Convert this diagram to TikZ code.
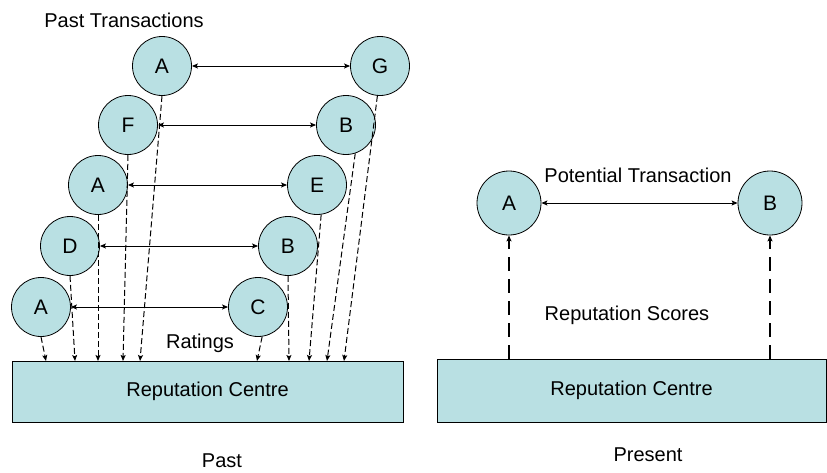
\documentclass[tikz,border=0pt]{standalone}
\usepackage{fontspec}
\setmainfont{Liberation Sans}
\usetikzlibrary{arrows.meta}
\definecolor{agentfill}{RGB}{185,224,227}
\tikzset{
  agent/.style={circle, draw=black, fill=agentfill, line width=0.8pt, minimum size=59pt, inner sep=0pt, font=\fontsize{21}{24}\selectfont},
  bigagent/.style={agent, minimum size=64pt},
  centre/.style={draw=black, fill=agentfill, line width=0.9pt, inner sep=0pt, font=\fontsize{20}{24}\selectfont},
  label/.style={font=\fontsize{20}{24}\selectfont, inner sep=0pt},
  tip/.tip={Stealth[length=6pt, width=5pt, inset=1.2pt]},
  deal/.style={tip-tip, line width=1pt},
  rating/.style={-tip, line width=1pt, dash pattern=on 6pt off 3pt},
  score/.style={-tip, line width=1.1pt, dash pattern=on 14pt off 8pt},
}
\begin{document}
\begin{tikzpicture}[x=1pt, y=-1pt]
\useasboundingbox (0,0) rectangle (827,472);

% ---- Past ----
\node[label] (pt) at (124,20) {Past Transactions};

\node[agent] (a1) at (162,66)  {A};
\node[agent] (g1) at (380,66)  {G};
\node[agent] (f2) at (128,125) {F};
\node[agent] (b2) at (346,125) {B};
\node[agent] (a3) at (98,185)  {A};
\node[agent] (e3) at (317,185) {E};
\node[agent] (d4) at (70,246)  {D};
\node[agent] (b4) at (288,246) {B};
\node[agent] (a5) at (41,307)  {A};
\node[agent] (c5) at (258,307) {C};

\node[centre, minimum width=391pt, minimum height=61pt] (rc1) at (207.5,391.5) {Reputation Centre};
\node[label] (rat) at (200,343) {Ratings};
\node[label] (past) at (222,461) {Past};

\draw[deal] (a1) -- (g1);
\draw[deal] (f2) -- (b2);
\draw[deal] (a3) -- (e3);
\draw[deal] (d4) -- (b4);
\draw[deal] (a5) -- (c5);

% rating arrows down to the centre
\coordinate (r1) at (46,361);
\coordinate (r2) at (75,361);
\coordinate (r3) at (98,361);
\coordinate (r4) at (123,361);
\coordinate (r5) at (140,361);
\coordinate (r6) at (257,361);
\coordinate (r7) at (289,361);
\coordinate (r8) at (309,361);
\coordinate (r9) at (327,361);
\coordinate (r10) at (344,361);
\draw[rating] (a5.south) -- (r1);
\draw[rating] (d4.south) -- (r2);
\draw[rating] (a3.south) -- (r3);
\draw[rating] (f2.south) -- (r4);
\draw[rating] (a1.south) -- (r5);
\draw[rating] (c5.-82) -- (r6);
\draw[rating] (b4.south) -- (r7);
\draw[rating] (e3.-82) -- (r8);
\draw[rating] (b2.-72) -- (r9);
\draw[rating] (g1.-95) -- (r10);

% ---- Present ----
\node[bigagent] (pa) at (509,203) {A};
\node[bigagent] (pb) at (770,203) {B};
\node[label] (ptx) at (638,175) {Potential Transaction};
\draw[deal] (pa) -- (pb);

\node[centre, minimum width=389pt, minimum height=63pt] (rc2) at (631.5,390.5) {Reputation Centre};
\node[label] (rs) at (627,315) {Reputation Scores};
\node[label] (pres) at (648,455) {Present};

\draw[score] (rc2.north -| pa) -- (pa);
\draw[score] (rc2.north -| pb) -- (pb);
\end{tikzpicture}
\end{document}
